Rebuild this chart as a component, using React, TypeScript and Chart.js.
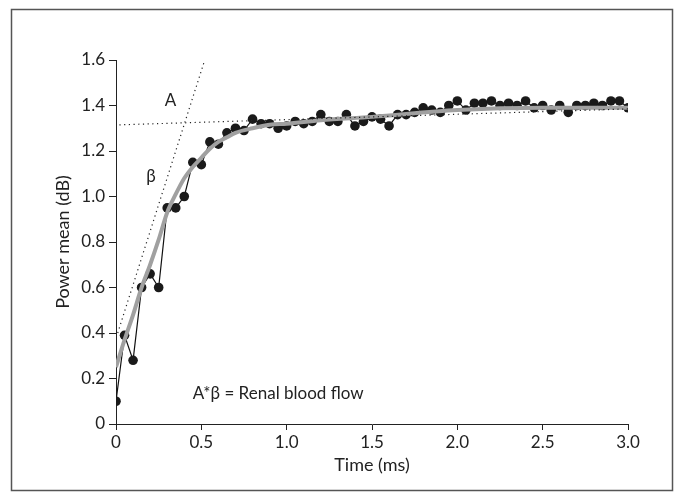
import React, { useEffect, useRef } from "react";
import { Chart, registerables } from "chart.js";

Chart.register(...registerables);

// Measured series (time in ms, power mean in dB)
const times = [
  0.0, 0.05, 0.1, 0.15, 0.2, 0.25, 0.3, 0.35, 0.4, 0.45,
  0.5, 0.55, 0.6, 0.65, 0.7, 0.75, 0.8, 0.85, 0.9, 0.95,
  1.0, 1.05, 1.1, 1.15, 1.2, 1.25, 1.3, 1.35, 1.4, 1.45,
  1.5, 1.55, 1.6, 1.65, 1.7, 1.75, 1.8, 1.85, 1.9, 1.95,
  2.0, 2.05, 2.1, 2.15, 2.2, 2.25, 2.3, 2.35, 2.4, 2.45,
  2.5, 2.55, 2.6, 2.65, 2.7, 2.75, 2.8, 2.85, 2.9, 2.95,
  3.0,
];
const powerMean = [
  0.10, 0.39, 0.28, 0.60, 0.66, 0.60, 0.95, 0.95, 1.00, 1.15,
  1.14, 1.24, 1.23, 1.28, 1.30, 1.29, 1.34, 1.32, 1.32, 1.30,
  1.31, 1.33, 1.32, 1.33, 1.36, 1.33, 1.33, 1.36, 1.31, 1.33,
  1.35, 1.34, 1.31, 1.36, 1.36, 1.37, 1.39, 1.38, 1.37, 1.40,
  1.42, 1.38, 1.41, 1.41, 1.42, 1.40, 1.41, 1.40, 1.42, 1.39,
  1.40, 1.38, 1.40, 1.37, 1.40, 1.40, 1.41, 1.40, 1.42, 1.42,
  1.39,
];

// Fitted (grey) curve
const fitTimes = [0, 0.05, 0.1, 0.15, 0.2, 0.25, 0.3, 0.35, 0.4, 0.45, 0.5, 0.55, 0.6, 0.65, 0.7, 0.8, 0.9, 1.0, 1.2, 1.5, 2.0, 2.5, 3.0];
const fitValues = [0.25, 0.37, 0.48, 0.60, 0.70, 0.81, 0.93, 1.01, 1.08, 1.13, 1.17, 1.21, 1.24, 1.26, 1.28, 1.30, 1.315, 1.32, 1.335, 1.35, 1.38, 1.39, 1.39];

// Dotted construction lines
const plateauX = [0.02, 3.0];
const plateauY = [1.315, 1.385];
const slopeX = [0.01, 0.52];
const slopeY = [0.40, 1.60];

// Axis ranges / ticks
const xRange = [0, 3.0];
const xStep = 0.5;
const yRange = [0, 1.6];
const yStep = 0.2;

// Annotation labels (data coordinates)
const labelA = { text: "A", x: 0.32, y: 1.42 };
const labelBeta = { text: "β", x: 0.205, y: 1.09 };
const labelFormula = { text: "A*β = Renal blood flow", x: 0.45, y: 0.135 };

const FONT = "Lato, 'Open Sans', sans-serif";

const fmt = (v: number) => (Math.abs(v) < 1e-9 ? "0" : Number(v).toFixed(1));

export default function App() {
  const ref = useRef<HTMLCanvasElement | null>(null);

  useEffect(() => {
    document.body.style.margin = "0";
    const canvas = ref.current;
    if (!canvas) return;

    const toXY = (xs: number[], ys: number[]) => xs.map((x, i) => ({ x, y: ys[i] }));

    const decor = {
      id: "decor",
      afterDraw(chart: any) {
        const { ctx } = chart;
        const xs = chart.scales.x;
        const ys = chart.scales.y;
        ctx.save();
        // frame
        ctx.strokeStyle = "#555";
        ctx.lineWidth = 1.5;
        ctx.strokeRect(11.5, 9.5, 661, 481);
        // labels
        ctx.fillStyle = "#222";
        ctx.font = `17px ${FONT}`;
        ctx.textBaseline = "middle";
        ctx.textAlign = "center";
        ctx.fillText(labelA.text, xs.getPixelForValue(labelA.x), ys.getPixelForValue(labelA.y));
        ctx.fillText(labelBeta.text, xs.getPixelForValue(labelBeta.x), ys.getPixelForValue(labelBeta.y));
        ctx.textAlign = "left";
        ctx.fillText(labelFormula.text, xs.getPixelForValue(labelFormula.x), ys.getPixelForValue(labelFormula.y));
        ctx.restore();
      },
    };

    const chart = new Chart(canvas, {
      type: "line",
      data: {
        datasets: [
          {
            data: toXY(plateauX, plateauY),
            borderColor: "#222",
            borderWidth: 1.2,
            borderDash: [1.2, 3.5],
            pointRadius: 0,
            fill: false,
          },
          {
            data: toXY(slopeX, slopeY),
            borderColor: "#222",
            borderWidth: 1.2,
            borderDash: [1.2, 3.5],
            pointRadius: 0,
            fill: false,
          },
          {
            data: toXY(fitTimes, fitValues),
            borderColor: "#a0a0a0",
            borderWidth: 4,
            pointRadius: 0,
            cubicInterpolationMode: "monotone",
            fill: false,
          },
          {
            data: toXY(times, powerMean),
            borderColor: "#111",
            borderWidth: 1.2,
            pointRadius: 4.8,
            pointBackgroundColor: "#1a1a1a",
            pointBorderColor: "#1a1a1a",
            pointBorderWidth: 0,
            fill: false,
          },
        ],
      },
      options: {
        responsive: false,
        animation: false,
        devicePixelRatio: 1,
        layout: { padding: { left: 12, top: 60, right: 47, bottom: 0 } },
        plugins: { legend: { display: false }, tooltip: { enabled: false } },
        scales: {
          x: {
            type: "linear",
            min: xRange[0],
            max: xRange[1],
            afterFit: (s: any) => {
              s.height = 70;
            },
            ticks: {
              stepSize: xStep,
              callback: (v: any) => fmt(Number(v)),
              color: "#222",
              font: { family: FONT, size: 17 },
              padding: 2,
              maxRotation: 0,
            },
            grid: { drawOnChartArea: false, drawTicks: true, tickLength: 6, color: "#222" },
            border: { display: true, color: "#222", width: 1 },
            title: {
              display: true,
              text: "Time (ms)",
              color: "#222",
              font: { family: FONT, size: 18 },
              padding: { top: 0, bottom: 18 },
            },
          },
          y: {
            type: "linear",
            min: yRange[0],
            max: yRange[1],
            afterFit: (s: any) => {
              s.width = 104;
            },
            ticks: {
              stepSize: yStep,
              callback: (v: any) => fmt(Number(v)),
              color: "#222",
              font: { family: FONT, size: 17 },
              padding: 4,
            },
            grid: { drawOnChartArea: false, drawTicks: true, tickLength: 7, color: "#222" },
            border: { display: true, color: "#222", width: 1 },
            title: {
              display: true,
              text: "Power mean (dB)",
              color: "#222",
              font: { family: FONT, size: 18 },
              padding: { top: 40, bottom: 0 },
            },
          },
        },
      },
      plugins: [decor],
    } as any);

    return () => chart.destroy();
  }, []);

  return (
    <div style={{ width: 675, height: 494 }}>
      <canvas ref={ref} width={675} height={494} />
    </div>
  );
}
